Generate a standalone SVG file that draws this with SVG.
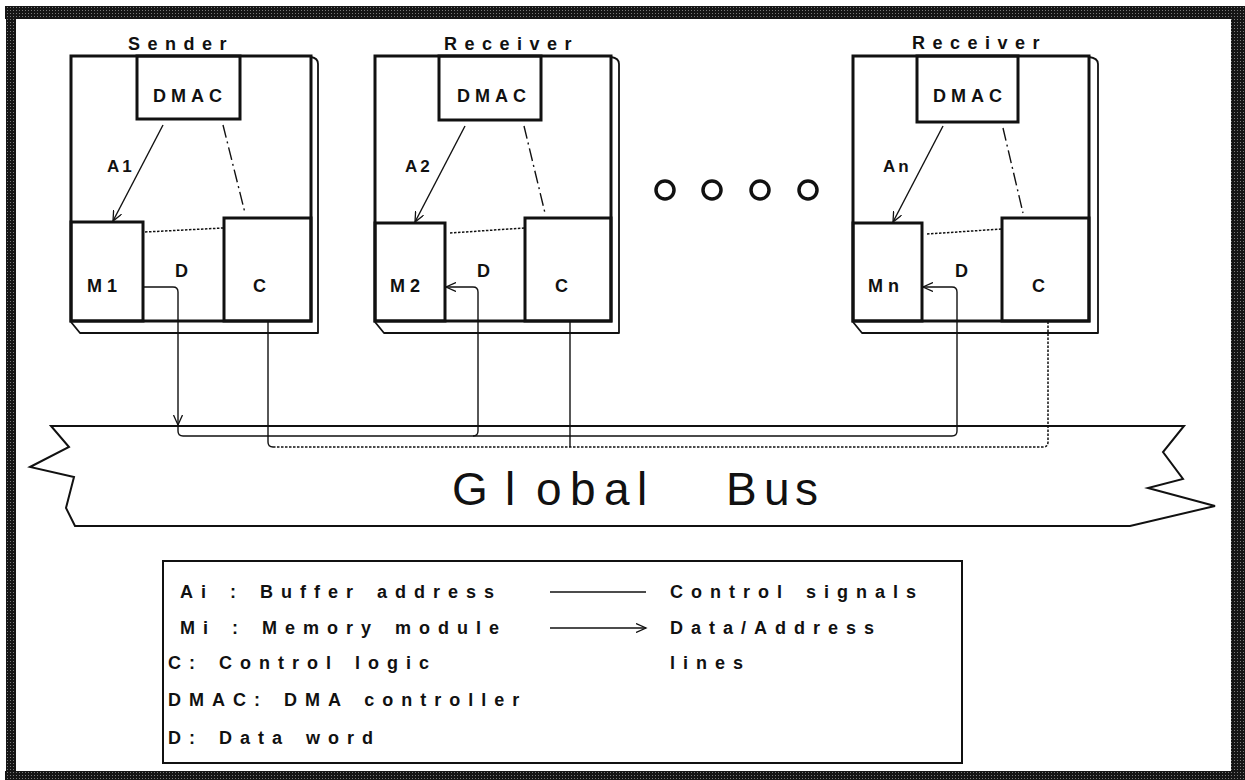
<svg xmlns="http://www.w3.org/2000/svg" width="1245" height="780" viewBox="0 0 1245 780">
<style>
text{font-family:"Liberation Sans",Arial,Helvetica,sans-serif;fill:#111}
.box{fill:none;stroke:#111;stroke-width:3}
.shadow{fill:none;stroke:#111;stroke-width:1.8;stroke-linejoin:round}
.ln{fill:none;stroke:#111;stroke-width:1.4}
.dot{fill:none;stroke:#111;stroke-width:1.5;stroke-dasharray:2.5,1.5}
.dd{fill:none;stroke:#111;stroke-width:1.4;stroke-dasharray:13,4,2,4}
.lbl{font-size:18px;font-weight:bold;letter-spacing:5px}
.ttl{font-size:18px;font-weight:bold;letter-spacing:7.5px}
.an{font-size:17px;font-weight:bold;letter-spacing:3px}
.leg{font-size:18px;font-weight:bold;letter-spacing:8px;word-spacing:3px}
.circ{fill:none;stroke:#111;stroke-width:3.5}
</style>
<defs>
<pattern id="stip" width="3" height="3" patternUnits="userSpaceOnUse">
<rect width="3" height="3" fill="#151515"/><rect x="1" y="1" width="1" height="1" fill="#7a7a7a"/>
</pattern>
<marker id="arr" markerWidth="12" markerHeight="10" refX="10" refY="5" orient="auto" markerUnits="userSpaceOnUse">
<path d="M0,0.5 L10,5 L0,9.5" fill="none" stroke="#111" stroke-width="1.3"/>
</marker>
</defs>
<rect width="1245" height="780" fill="#fff"/>
<g id="frame">
<rect x="5" y="6" width="1240" height="13" fill="url(#stip)"/>
<rect x="6" y="6" width="10" height="774" fill="url(#stip)"/>
<rect x="1231" y="6" width="14" height="774" fill="url(#stip)"/>
<rect x="5" y="771" width="1240" height="9" fill="url(#stip)"/>
</g>

<g id="node-sender">
<text class="ttl" x="128" y="50">Sender</text>
<path class="shadow" d="M311,57 Q318,58 318,64 V333 H80 L71,322"/>
<rect class="box" x="71" y="56" width="240" height="265"/>
<rect class="box" x="137" y="56" width="103" height="63"/>
<text class="lbl" x="153" y="102">DMAC</text>
<rect class="box" x="71" y="222" width="72" height="99"/>
<text class="lbl" x="87" y="292">M1</text>
<rect class="box" x="224" y="218" width="87" height="103"/>
<text class="lbl" x="253" y="292">C</text>
<text class="lbl" x="175" y="277">D</text>
</g>

<g id="node-receiver1">
<text class="ttl" x="444" y="50">Receiver</text>
<path class="shadow" d="M611,57 Q619,58 619,64 V333 H384 L375,322"/>
<rect class="box" x="375" y="56" width="236" height="265"/>
<rect class="box" x="439" y="56" width="102" height="64"/>
<text class="lbl" x="457" y="102">DMAC</text>
<rect class="box" x="375" y="223" width="70" height="98"/>
<text class="lbl" x="390" y="292">M2</text>
<rect class="box" x="525" y="218" width="86" height="103"/>
<text class="lbl" x="555" y="292">C</text>
<text class="lbl" x="477" y="277">D</text>
</g>

<g id="node-receivern">
<text class="ttl" x="912" y="49">Receiver</text>
<path class="shadow" d="M1089,57 Q1098,58 1098,64 V333 H862 L853,322"/>
<rect class="box" x="853" y="56" width="236" height="265"/>
<rect class="box" x="917" y="56" width="101" height="66"/>
<text class="lbl" x="933" y="102">DMAC</text>
<rect class="box" x="853" y="223" width="69" height="98"/>
<text class="lbl" x="868" y="292">Mn</text>
<rect class="box" x="1002" y="218" width="87" height="103"/>
<text class="lbl" x="1032" y="292">C</text>
<text class="lbl" x="955" y="277">D</text>
</g>

<g id="ellipsis">
<circle class="circ" cx="665" cy="190" r="9"/>
<circle class="circ" cx="712" cy="190" r="9"/>
<circle class="circ" cx="760" cy="190" r="9"/>
<circle class="circ" cx="808" cy="190" r="9"/>
</g>

<g id="bus">
<path d="M51,426 H1184 L1163,452 L1183,479 L1148,488 L1215,506 L1130,526 H75 L66,508 L74,477 L30,467 L69,447 Z" fill="none" stroke="#111" stroke-width="2" stroke-linejoin="miter"/>
<text x="452 505 536 570 604 637 680 726 764 795" y="505" font-size="46">Global Bus</text>
</g>

<g id="connectors">
<line class="ln" x1="163" y1="125" x2="113" y2="221" marker-end="url(#arr)"/>
<line class="ln" x1="465" y1="126" x2="415" y2="222" marker-end="url(#arr)"/>
<line class="ln" x1="943" y1="126" x2="893" y2="222" marker-end="url(#arr)"/>
<text class="an" x="107" y="172">A1</text>
<text class="an" x="405" y="172">A2</text>
<text class="an" x="883" y="172">An</text>
<line class="dd" x1="223" y1="125" x2="245" y2="213"/>
<line class="dd" x1="524" y1="126" x2="545" y2="213"/>
<line class="dd" x1="1003" y1="128" x2="1023" y2="213"/>
<line class="dot" x1="145" y1="232" x2="223" y2="228"/>
<line class="dot" x1="450" y1="233" x2="524" y2="228"/>
<line class="dot" x1="927" y1="234" x2="1002" y2="229"/>
<path class="ln" d="M143,287 H173 Q178,287 178,292 V425" marker-end="url(#arr)"/>
<path class="ln" d="M178,425 V431 Q178,436 183,436 H952 Q957,436 957,431 V292 Q957,287 952,287 H923" marker-end="url(#arr)"/>
<path class="ln" d="M473,436 Q478,436 478,431 V292 Q478,287 473,287 H446" marker-end="url(#arr)"/>
<path class="ln" d="M268,321 V442 Q268,447 273,447"/>
<path class="ln" d="M570,321 V447"/>
<path class="dot" d="M273,447 H1043 Q1048,447 1048,442 V321"/>
</g>

<g id="legend">
<rect x="163" y="561" width="799" height="202" fill="none" stroke="#111" stroke-width="2"/>
<text class="leg" x="180" y="598">Ai : Buffer address</text>
<text class="leg" x="180" y="634">Mi : Memory module</text>
<text class="leg" x="168" y="669">C: Control logic</text>
<text class="leg" x="168" y="706">DMAC: DMA controller</text>
<text class="leg" x="168" y="744">D: Data word</text>
<line class="ln" x1="550" y1="592" x2="646" y2="592"/>
<line class="ln" x1="550" y1="628" x2="646" y2="628" marker-end="url(#arr)"/>
<text class="leg" x="670" y="598">Control signals</text>
<text class="leg" x="670" y="634">Data/Address</text>
<text class="leg" x="670" y="669">lines</text>
</g>
</svg>
